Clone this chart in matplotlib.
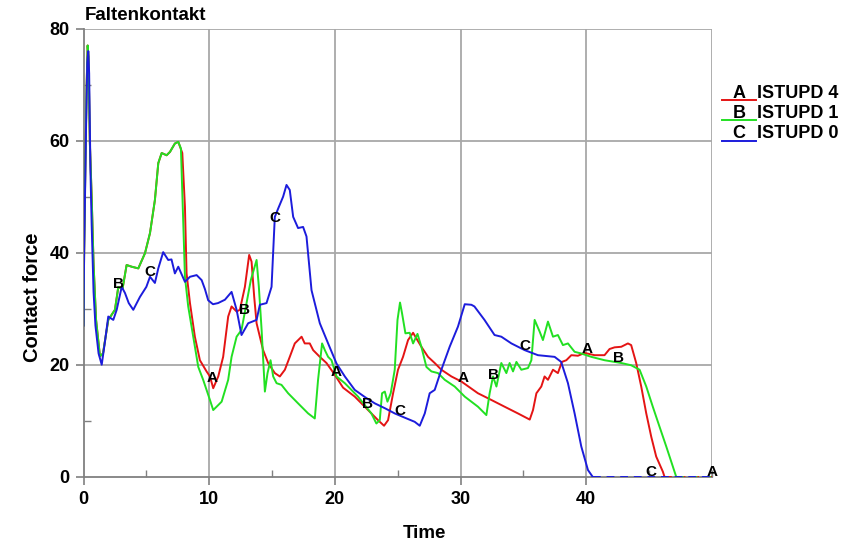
import matplotlib
matplotlib.use("Agg")
import matplotlib.pyplot as plt
from matplotlib.lines import Line2D
from matplotlib.ticker import MultipleLocator
import numpy as np

# --- data ---
time_c = [0, 0.05, 0.12, 0.2, 0.3, 0.38, 0.45, 0.55, 0.65, 0.8, 0.95, 1.2, 1.45, 1.7, 1.97,
          2.37, 2.64, 3.04, 3.3, 3.6, 3.96, 4.49, 5.0, 5.29, 5.68, 5.95, 6.34, 6.74, 7.0, 7.27,
          7.54, 8.07, 8.47, 9.0, 9.4, 9.66, 9.92, 10.3, 10.7, 11.25, 11.78, 12.18, 12.57, 13.1,
          13.77, 14.03, 14.56, 14.96, 15.22, 15.49, 15.88, 16.15, 16.41, 16.68, 17.07, 17.47,
          17.74, 18.14, 18.8, 19.46, 20.13, 20.79, 21.58, 22.4, 23.17, 24.0, 24.76, 25.6, 26.35,
          26.75, 27.15, 27.54, 27.94, 28.47, 29.13, 29.79, 30.33, 30.86, 31.1, 31.9, 32.7, 33.24,
          34.04, 35.1, 36.15, 37.48, 38.0, 38.54, 39.07, 39.6, 40.13, 40.5, 50]
force_c = [27, 40, 50, 62, 74, 76, 72, 55, 45, 33, 27, 22, 20, 24, 28.6,
           28, 29.8, 33.9, 32.8, 31, 29.8, 32.1, 33.9, 35.7, 34.6, 37.2, 40.1, 38.7, 38.8, 36.3,
           37.5, 34.8, 35.7, 36.0, 35.1, 33.5, 31.5, 30.8, 31.0, 31.6, 33.0, 29.8, 25.3, 27.4,
           28.0, 30.7, 31.0, 33.9, 46.4, 47.9, 50.0, 52.1, 51.2, 46.4, 44.4, 44.6,
           42.9, 33.3, 27.4, 23.8, 20.2, 17.9, 15.5, 14.2, 13.1, 12.2, 11.3, 10.5, 9.8,
           9.1, 11.3, 14.9, 15.5, 19.1, 23.2, 26.8, 30.8, 30.7, 30.4, 28.0, 25.3, 25.0,
           23.8, 22.6, 21.7, 21.4, 20.5, 16.7, 11.3, 5.4, 1.2, 0, 0]

time_b = [0, 0.05, 0.15, 0.25, 0.33, 0.4, 0.5, 0.65, 0.8, 1.0, 1.31, 1.55, 1.97, 2.5, 2.77,
          3.1, 3.43, 3.83, 4.36, 4.89, 5.29, 5.68, 5.95, 6.22, 6.61, 6.88, 7.27, 7.54, 7.75,
          7.93, 8.07, 8.33, 8.73, 9.13, 9.52, 10.06, 10.32, 10.59, 10.99, 11.51, 11.78, 12.18,
          12.57, 12.97, 13.31, 13.77, 13.95, 14.17, 14.43, 14.64, 14.88, 15.09, 15.36, 15.75,
          16.28, 17.07, 17.87, 18.4, 18.66, 18.98, 19.2, 19.46, 19.73, 20.13, 20.79, 21.84,
          22.9, 23.3, 23.57, 23.75, 23.97, 24.18, 24.44, 24.76, 24.98, 25.18, 25.34, 25.61,
          25.95, 26.22, 26.57, 26.88, 27.28, 27.68, 28.2, 28.74, 29.53, 30.33, 31.38, 32.05,
          32.31, 32.58, 32.85, 33.24, 33.64, 33.9, 34.17, 34.44, 34.83, 35.36, 35.63, 35.89,
          36.29, 36.55, 36.95, 37.35, 37.74, 38.14, 38.54, 39.07, 39.6, 40.4, 41.45, 42.78,
          43.57, 44.24, 44.77, 45.29, 45.83, 46.36, 46.8, 47.15, 50]
force_b = [27, 40, 56, 70, 77, 75, 60, 50, 38, 28, 21.5, 22, 28, 29.8, 33.9,
           33.5, 37.8, 37.5, 37.2, 39.9, 43.5, 49.4, 56.0, 57.8, 57.4, 58.0, 59.5, 59.8, 58.6,
           45.8, 35.7, 30.4, 25.0, 19.6, 17.3, 13.7, 11.9, 12.5, 13.4, 17.3, 21.4, 25.0,
           26.2, 31.0, 35.1, 38.7, 33.9, 26.2, 15.2, 18.5, 20.8, 17.9, 16.7, 16.4,
           14.9, 13.1, 11.3, 10.4, 17.3, 23.8, 22.6, 21.4, 20.8, 17.9, 16.7, 14.3,
           11.3, 9.5, 10.1, 14.9, 15.2, 13.4, 14.9, 19.1, 28.0, 31.1, 29.2, 25.6,
           25.7, 23.8, 25.5, 23.2, 19.6, 18.8, 18.5, 17.3, 16.1, 14.3, 12.5, 11.0,
           14.9, 17.9, 16.1, 20.3, 18.5, 20.3, 18.8, 20.5, 19.1, 19.4, 20.8, 28.0,
           25.9, 24.4, 27.7, 25.0, 25.3, 23.5, 23.8, 22.3, 22.0, 21.4, 20.8, 20.3,
           19.9, 19.1, 16.1, 12.5, 8.9, 5.4, 2.4, 0, 0]

# ISTUPD 4 runs under ISTUPD 1 until the first maximum near t = 7.5
time_a = [0, 0.05, 0.15, 0.25, 0.33, 0.4, 0.5, 0.65, 0.8, 1.0, 1.31, 1.55, 1.97, 2.5, 2.77,
          3.1, 3.43, 3.83, 4.36, 4.89, 5.29, 5.68, 5.95, 6.22, 6.61, 6.88, 7.27, 7.54,
          7.86, 8.07, 8.2, 8.47, 8.86, 9.26, 9.79, 10.06, 10.32, 10.72,
          11.11, 11.51, 11.78, 12.18, 12.44, 12.84, 13.18, 13.37, 13.58, 13.77, 14.03, 14.29,
          14.69, 15.22, 15.62, 16.02, 16.41, 16.81, 17.35, 17.6, 18.0, 18.27, 18.8, 19.33,
          19.99, 20.65, 21.58, 22.64, 23.43, 23.91, 24.23, 24.63, 25.02, 25.42, 25.82, 26.22,
          26.48, 26.88, 27.41, 27.94, 28.47, 29.27, 30.06, 31.38, 32.45, 33.5, 34.56, 35.5,
          35.76, 36.03, 36.42, 36.68, 36.95, 37.35, 37.74, 38.06, 38.41, 38.81, 39.33, 39.87,
          40.66, 41.45, 41.85, 42.25, 42.78, 43.31, 43.57, 43.97, 44.37, 44.77, 45.17, 45.56,
          46.09, 46.22, 50]
force_a = [27, 40, 56, 70, 77, 75, 60, 50, 38, 28, 21.5, 22, 28, 29.8, 33.9,
           33.5, 37.8, 37.5, 37.2, 39.9, 43.5, 49.4, 56.0, 57.8, 57.4, 58.0, 59.5, 59.8,
           57.8, 48.2, 36.3, 31.0, 25.0, 20.8, 18.8, 17.9, 15.8, 17.9,
           21.4, 28.6, 30.4, 29.5, 29.8, 33.9, 39.6, 38.4, 32.1, 27.4, 25.0, 22.6,
           20.3, 18.5, 17.9, 19.1, 21.4, 23.8, 25.0, 23.8, 23.8, 22.6, 21.4, 20.3,
           18.2, 15.9, 14.3, 11.9, 10.1, 9.1, 10.1, 14.9, 19.1, 21.4, 24.4, 25.7,
           24.7, 23.2, 21.4, 20.3, 19.1, 17.9, 17.0, 14.9, 13.7, 12.5, 11.3, 10.2,
           11.9, 14.9, 16.1, 17.9, 17.3, 19.1, 18.5, 20.5, 20.8, 21.7, 21.6, 22.1,
           21.7, 21.7, 22.8, 23.1, 23.2, 23.8, 23.5, 20.3, 16.1, 11.3, 7.1, 3.6,
           0.9, 0, 0]

# curve marker letters: time positions where each letter sits
marks_a = [10.2, 20.1, 30.2, 40.1, 50]
marks_b = [2.75, 12.8, 22.6, 32.65, 42.6]
marks_c = [5.3, 15.2, 25.2, 35.1, 45.1]

series = [
    ("A", "ISTUPD 4", time_a, force_a, marks_a, "#e41414"),
    ("B", "ISTUPD 1", time_b, force_b, marks_b, "#22e022"),
    ("C", "ISTUPD 0", time_c, force_c, marks_c, "#1c1cdc"),
]

W, H = 859, 544
fig = plt.figure(figsize=(W / 100, H / 100), dpi=100)
ax = fig.add_axes([83.5 / W, 1 - 476.7 / H, (712 - 83.5) / W, (476.7 - 28.7) / H])

bold = dict(family="Liberation Sans", weight="bold")

for letter, name, t, f, marks, col in series:
    t = np.array(t)
    f = np.array(f)
    i0 = int(np.argmax(f == 0))
    ax.plot(t[:i0 + 1], f[:i0 + 1], color=col, lw=1.4, zorder=3)
    ax.plot(t[i0:], f[i0:], color=col, lw=1.4, dashes=(4, 3),
            dash_capstyle="butt", zorder=3 + (letter == "C"))
    for m in marks:
        y = np.interp(m, t, f)
        ax.text(m, y + 0.8, letter, ha="center", va="center", fontsize=11,
                zorder=6, **bold)

ax.set_xlim(0, 50)
ax.set_ylim(0, 80)
ax.set_xticks([0, 10, 20, 30, 40])
ax.set_yticks([0, 20, 40, 60, 80])
ax.xaxis.set_minor_locator(MultipleLocator(5))
ax.yaxis.set_minor_locator(MultipleLocator(10))
for v in [10, 20, 30, 40, 50]:
    ax.axvline(v, color="#a8a8a8", lw=1.3, zorder=1)
for v in [20, 40, 60, 80]:
    ax.axhline(v, color="#a8a8a8", lw=1.3, zorder=1)

for s in ["top", "right"]:
    ax.spines[s].set_visible(False)
for s in ["left", "bottom"]:
    ax.spines[s].set_color("#808080")
    ax.spines[s].set_linewidth(1.3)
ax.tick_params(which="major", direction="out", length=6, width=1.2, color="#808080", pad=4)
ax.tick_params(which="minor", direction="in", length=5, width=1.0, color="#808080")
for lab in ax.get_xticklabels() + ax.get_yticklabels():
    lab.set_fontfamily("Liberation Sans")
    lab.set_fontweight("bold")
    lab.set_fontsize(13)

fig.text(85 / W, 1 - 15 / H, "Faltenkontakt", ha="left", va="center", fontsize=13.5, **bold)
fig.text(32 / W, 1 - 297 / H, "Contact force", rotation=90, ha="center", va="center",
         fontsize=14.5, **bold)
fig.text(424 / W, 1 - 533 / H, "Time", ha="center", va="center", fontsize=13.5, **bold)

# legend drawn by hand: letter sitting on a short coloured line, then the name
for i, (letter, name, t, f, marks, col) in enumerate(series):
    yl = 1 - (100 + 20.5 * i) / H
    yt = 1 - (93 + 20.5 * i) / H
    fig.add_artist(Line2D([722 / W, 756 / W], [yl, yl], color=col, lw=1.4))
    fig.text(739 / W, yt, letter, ha="center", va="center", fontsize=13, **bold)
    fig.text(757 / W, yt, name, ha="left", va="center", fontsize=13, **bold)

fig.savefig("out.png", dpi=100)
